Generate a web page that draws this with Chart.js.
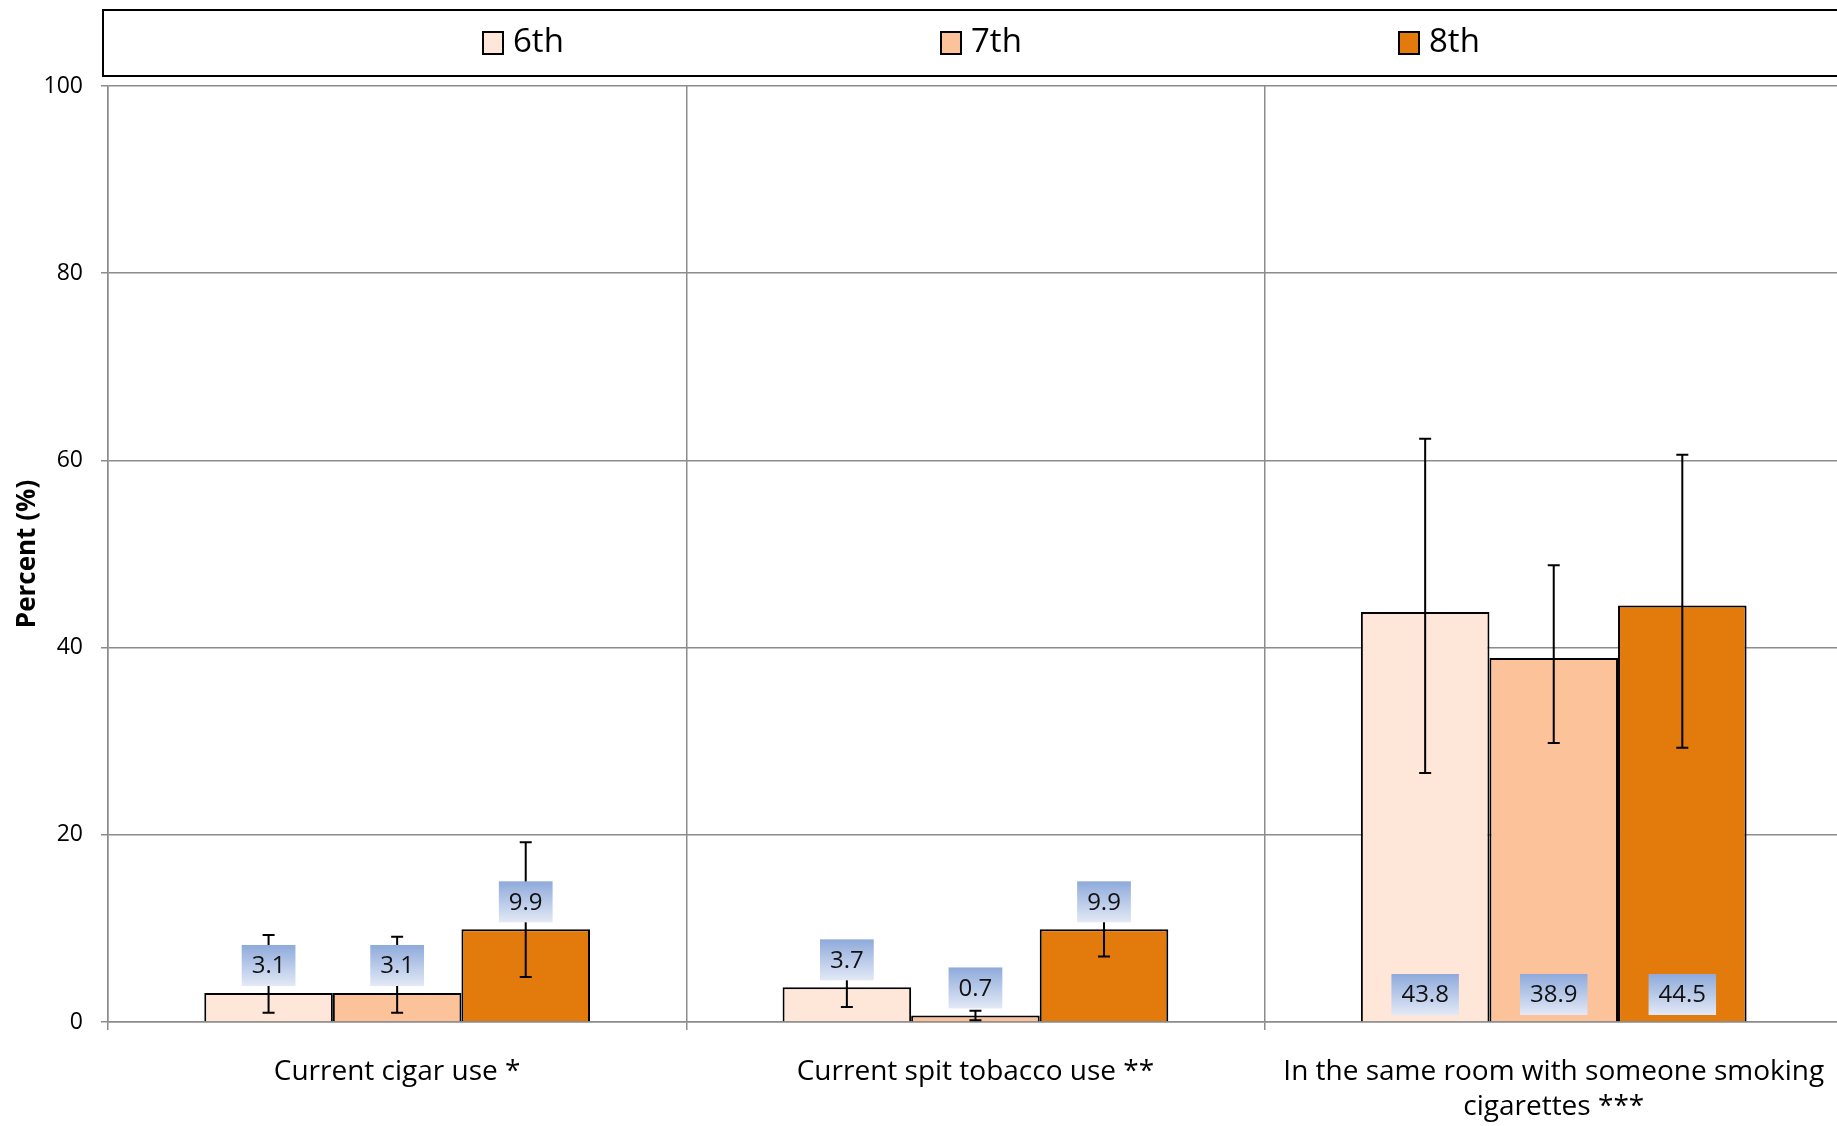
<!DOCTYPE html>
<html>
<head>
<meta charset="utf-8">
<script src="https://cdn.jsdelivr.net/npm/chart.js@4.4.0/dist/chart.umd.min.js"></script>
<style>
  html, body { margin: 0; padding: 0; background: #fff; overflow: hidden; }
  #wrap { width: 1850px; height: 1126px; }
</style>
</head>
<body>
<div id="wrap"><canvas id="chart" width="1850" height="1126"></canvas></div>
<script>
  const categories = [
    'Current cigar use *',
    'Current spit tobacco use **',
    ['In the same room with someone smoking', 'cigarettes ***']
  ];
  const grades = ['6th', '7th', '8th'];

  const values6 = [3.1, 3.7, 43.8];
  const values7 = [3.1, 0.7, 38.9];
  const values8 = [9.9, 9.9, 44.5];

  // confidence interval ends
  const low6 = [1.0, 1.6, 26.6];
  const high6 = [9.3, 5.8, 62.3];
  const low7 = [1.0, 0.2, 29.8];
  const high7 = [9.1, 1.2, 48.8];
  const low8 = [4.8, 7.0, 29.3];
  const high8 = [19.2, 12.8, 60.6];

  const yTicks = [0, 20, 40, 60, 80, 100];
  const labelPlacement = ['end', 'end', 'base'];

  const colors = ['#fee6d9', '#fcc39b', '#e27b0b'];
  const gridColor = '#8c8c8c';
  const font = '"Open Sans", "DejaVu Sans", sans-serif';

  const datasets = [
    { label: grades[0], data: values6, low: low6, high: high6 },
    { label: grades[1], data: values7, low: low7, high: high7 },
    { label: grades[2], data: values8, low: low8, high: high8 }
  ].map((d, i) => ({
    ...d,
    backgroundColor: colors[i],
    borderColor: '#000',
    borderWidth: 2,
    categoryPercentage: 0.667,
    barPercentage: 1.0
  }));

  // error bars with caps
  const errorBars = {
    id: 'errorBars',
    afterDatasetsDraw(chart) {
      const { ctx, scales: { y } } = chart;
      ctx.save();
      ctx.strokeStyle = '#000';
      ctx.lineWidth = 2;
      chart.data.datasets.forEach((ds, i) => {
        chart.getDatasetMeta(i).data.forEach((bar, j) => {
          const yHi = y.getPixelForValue(ds.high[j]);
          const yLo = y.getPixelForValue(ds.low[j]);
          ctx.beginPath();
          ctx.moveTo(bar.x, yHi); ctx.lineTo(bar.x, yLo);
          ctx.moveTo(bar.x - 6, yHi); ctx.lineTo(bar.x + 6, yHi);
          ctx.moveTo(bar.x - 6, yLo); ctx.lineTo(bar.x + 6, yLo);
          ctx.stroke();
        });
      });
      ctx.restore();
    }
  };

  // value labels in blue gradient boxes
  const valueBoxes = {
    id: 'valueBoxes',
    afterDatasetsDraw(chart) {
      const { ctx, scales: { y } } = chart;
      ctx.save();
      ctx.font = '24px ' + font;
      ctx.textAlign = 'center';
      ctx.textBaseline = 'middle';
      chart.data.datasets.forEach((ds, i) => {
        chart.getDatasetMeta(i).data.forEach((bar, j) => {
          const txt = ds.data[j].toFixed(1);
          const w = ctx.measureText(txt).width + 20;
          const h = 41;
          const bottom = labelPlacement[j] === 'base' ? y.getPixelForValue(0) - 7 : bar.y - 7;
          const top = bottom - h;
          const g = ctx.createLinearGradient(0, top, 0, bottom);
          g.addColorStop(0, '#8eaadb');
          g.addColorStop(1, '#e3e9f6');
          ctx.fillStyle = g;
          ctx.fillRect(bar.x - w / 2, top, w, h);
          ctx.fillStyle = '#111';
          ctx.fillText(txt, bar.x, top + h / 2 + 1);
        });
      });
      ctx.restore();
    }
  };

  // boxed legend across the top
  const boxedLegend = {
    id: 'boxedLegend',
    afterDraw(chart) {
      const { ctx, width } = chart;
      const left = 103, top = 10, bottom = 76, right = width - 3;
      ctx.save();
      ctx.strokeStyle = '#000';
      ctx.lineWidth = 2;
      ctx.strokeRect(left, top, right - left, bottom - top);
      ctx.font = '33px ' + font;
      ctx.textBaseline = 'middle';
      const stride = 458;
      const cy = (top + bottom) / 2;
      const startX = (left + right) / 2 - stride - 34;
      chart.data.datasets.forEach((ds, i) => {
        const x = startX + i * stride;
        ctx.fillStyle = ds.backgroundColor;
        ctx.fillRect(x, cy - 11, 20, 22);
        ctx.lineWidth = 2;
        ctx.strokeRect(x, cy - 11, 20, 22);
        ctx.fillStyle = '#000';
        ctx.fillText(ds.label, x + 30, cy);
      });
      ctx.restore();
    }
  };

  const ctx = document.getElementById('chart').getContext('2d');
  new Chart(ctx, {
    type: 'bar',
    data: { labels: categories, datasets },
    plugins: [errorBars, valueBoxes, boxedLegend],
    options: {
      responsive: false,
      animation: false,
      devicePixelRatio: 1,
      layout: { padding: { top: 86, right: 5, left: 0, bottom: 0 } },
      plugins: {
        legend: { display: false },
        tooltip: { enabled: false }
      },
      scales: {
        x: {
          offset: true,
          afterFit(scale) { scale.height = 104; },
          grid: { offset: true, color: gridColor, lineWidth: 1.5, tickLength: 8, tickColor: gridColor },
          border: { color: gridColor, width: 1.5 },
          ticks: {
            color: '#000',
            font: { family: font, size: 28, lineHeight: 1.25 },
            padding: 25,
            maxRotation: 0,
            autoSkip: false
          }
        },
        y: {
          min: 0,
          max: 100,
          afterBuildTicks(scale) { scale.ticks = yTicks.map(v => ({ value: v })); },
          afterFit(scale) { scale.width = 108; },
          grid: { color: gridColor, lineWidth: 1.5, tickLength: 7, tickColor: gridColor },
          border: { color: gridColor, width: 1.5 },
          ticks: {
            color: '#000',
            font: { family: font, size: 23 },
            padding: 18
          },
          title: {
            display: true,
            text: 'Percent (%)',
            color: '#000',
            font: { family: font, size: 26, weight: 'bold' },
            padding: { top: 12, bottom: 0 }
          }
        }
      }
    }
  });
</script>
</body>
</html>
